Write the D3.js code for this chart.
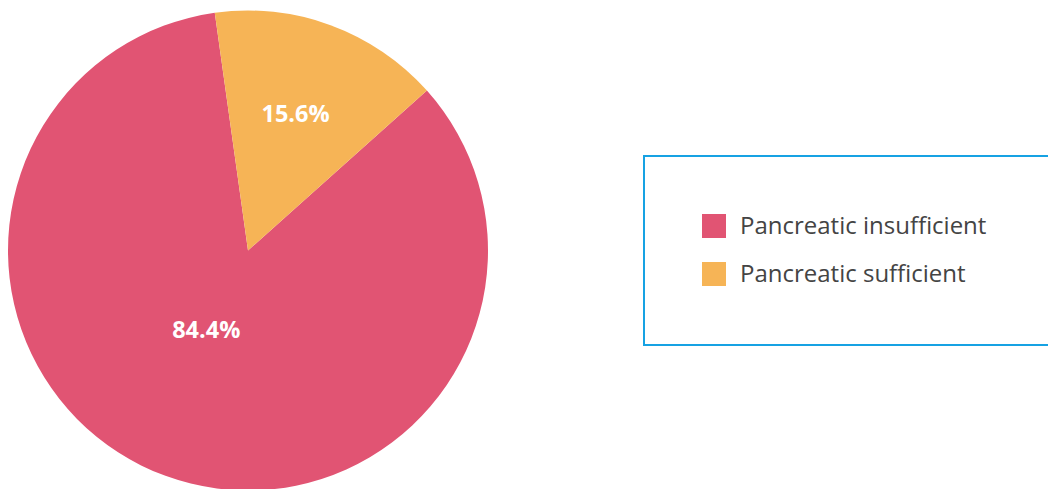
<!DOCTYPE html>
<html>
<head>
<meta charset="utf-8">
<script src="https://cdn.jsdelivr.net/npm/d3@7"></script>
<style>
  html, body { margin: 0; padding: 0; background: #fff; }
  svg { display: block; }
</style>
</head>
<body>
<svg id="chart" width="1048" height="489"></svg>
<script>
// Data
const categories = ["Pancreatic insufficient", "Pancreatic sufficient"];
const values = [84.4, 15.6];
const valueLabels = ["84.4%", "15.6%"];

// Styles
const colors = ["#E15473", "#F6B456"];
const W = 1048, H = 489;
const cx = 248, cy = 250.5, R = 240;
const startDeg = 48.2;
const labelRadiusFrac = [0.375, 0.605];
const labelAngleShiftDeg = [7.5, -1];

const svg = d3.select("#chart");

const pie = d3.pie().sort(null).value(d => d)
  .startAngle(startDeg * Math.PI / 180)
  .endAngle((startDeg + 360) * Math.PI / 180);
const arcs = pie(values);
const arc = d3.arc().innerRadius(0).outerRadius(R);

const g = svg.append("g").attr("transform", `translate(${cx},${cy})`);
g.selectAll("path").data(arcs).enter().append("path")
  .attr("d", arc)
  .attr("fill", (d, i) => colors[i]);

g.selectAll("text.lbl").data(arcs).enter().append("text")
  .attr("class", "lbl")
  .attr("transform", (d, i) => {
    const a = (d.startAngle + d.endAngle) / 2 + labelAngleShiftDeg[i] * Math.PI / 180;
    const r = R * labelRadiusFrac[i];
    return `translate(${r * Math.sin(a)},${-r * Math.cos(a)})`;
  })
  .attr("text-anchor", "middle")
  .attr("dy", "0.35em")
  .attr("fill", "#fff")
  .style("font-family", "'Open Sans', sans-serif")
  .style("font-weight", "700")
  .style("font-size", "23.5px")
  .text((d, i) => valueLabels[i]);

// Legend
const lg = svg.append("g");
lg.append("rect")
  .attr("x", 644).attr("y", 156)
  .attr("width", 420).attr("height", 189)
  .attr("fill", "none")
  .attr("stroke", "#16A2E3")
  .attr("stroke-width", 2);

const legendY = d3.scaleBand().domain(categories).range([202, 298]).paddingInner(0);
const items = lg.selectAll("g.item").data(categories).enter().append("g")
  .attr("class", "item")
  .attr("transform", d => `translate(702,${legendY(d) + legendY.bandwidth() / 2})`);
items.append("rect")
  .attr("x", 0).attr("y", -12)
  .attr("width", 24).attr("height", 24)
  .attr("fill", (d, i) => colors[i]);
items.append("text")
  .attr("x", 38).attr("y", 0)
  .attr("dy", "0.35em")
  .attr("fill", "#444")
  .style("font-family", "'Open Sans', sans-serif")
  .style("font-size", "24px")
  .text(d => d);
</script>
</body>
</html>
